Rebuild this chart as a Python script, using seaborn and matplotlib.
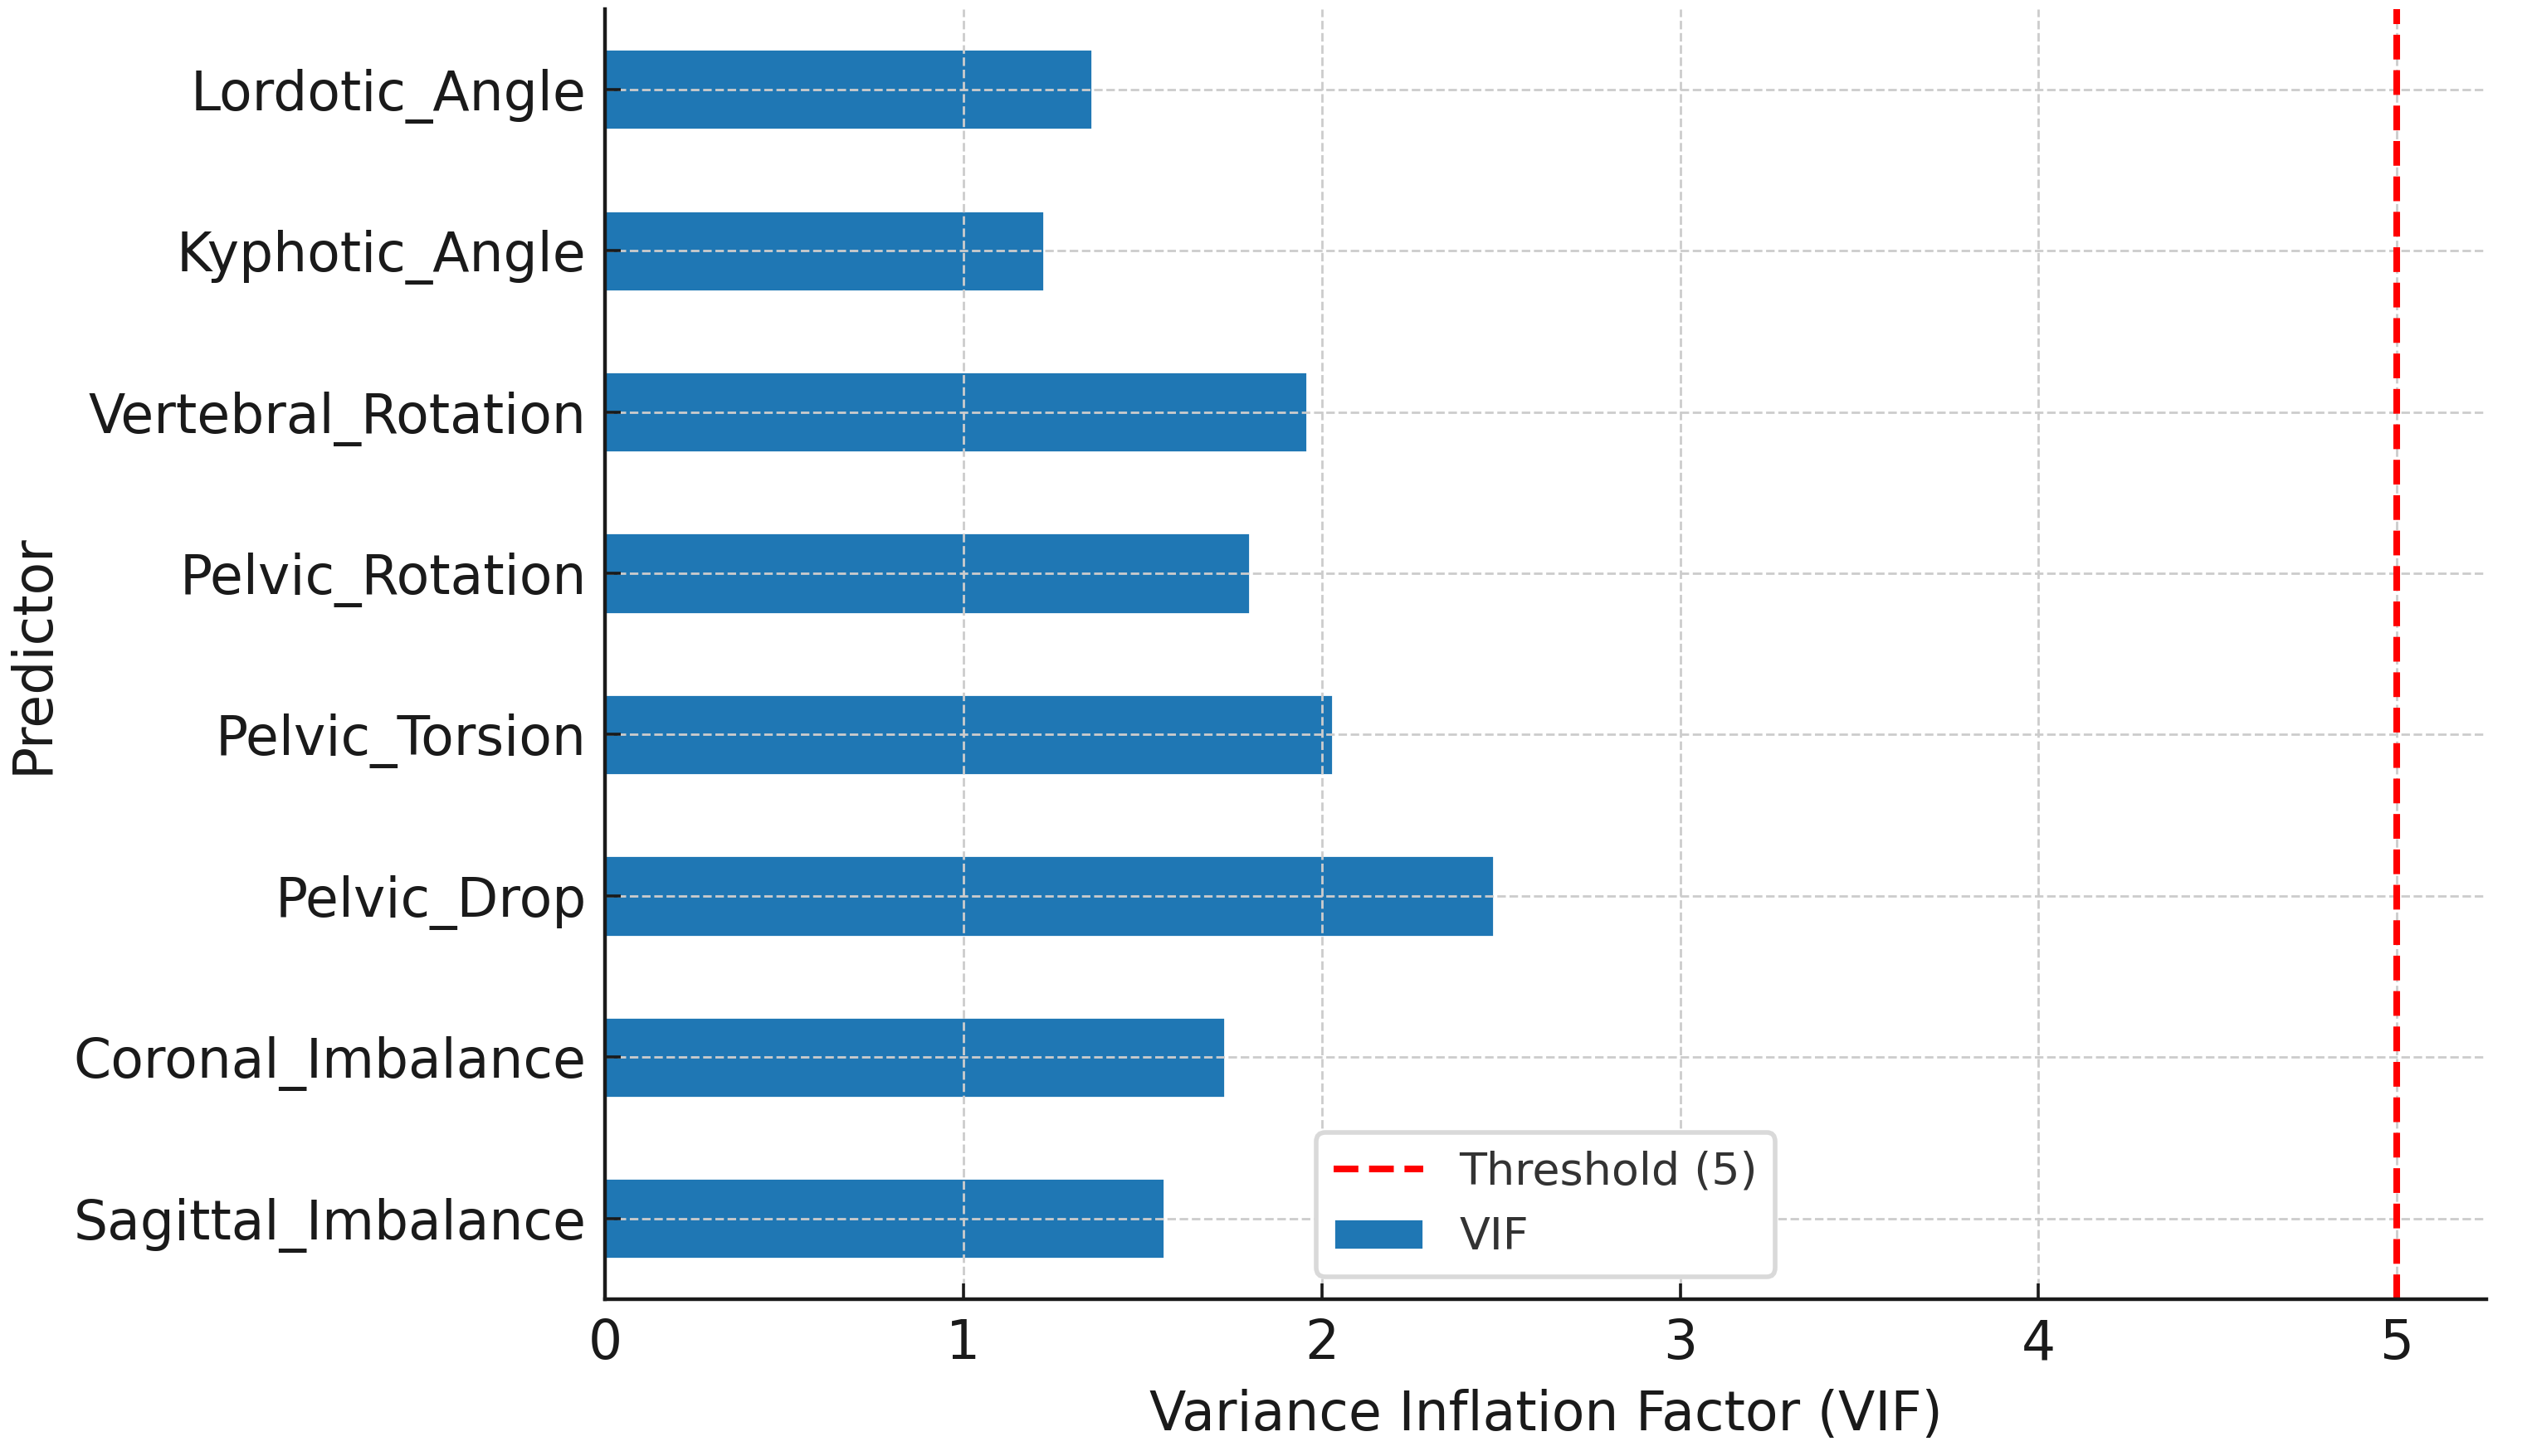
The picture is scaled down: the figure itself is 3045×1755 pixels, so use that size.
import matplotlib
matplotlib.use("Agg")
import pandas as pd
import matplotlib.pyplot as plt
import seaborn as sns

# valores (de arriba hacia abajo)
predictores = ["Lordotic_Angle", "Kyphotic_Angle", "Vertebral_Rotation", "Pelvic_Rotation",
               "Pelvic_Torsion", "Pelvic_Drop", "Coronal_Imbalance", "Sagittal_Imbalance"]
vif = [1.36, 1.225, 1.96, 1.80, 2.03, 2.48, 1.73, 1.56]
umbral = 5

sns.set_style("ticks")
plt.rcParams['font.family'] = ['DejaVu Sans']

df = pd.DataFrame({"Predictor": predictores, "VIF": vif})

fig = plt.figure(figsize=(15.225, 8.775), dpi=200)
ax = fig.add_axes([0.2394, 0.1077, 0.7446, 0.8863])

sns.barplot(data=df, x="VIF", y="Predictor", order=predictores, color="#1f77b4",
            saturation=1, width=0.5, orient="h", label="VIF", ax=ax)
ax.axvline(umbral, color="red", linestyle="--", linewidth=2.9, zorder=4,
           label=f"Threshold ({umbral})")

ax.set_xlim(0, 5.25)
ax.set_ylim(len(predictores) - 0.5, -0.5)
ax.grid(True, linestyle="--", color="#cccccc", linewidth=1.0)
ax.set_axisbelow(False)

for s in ["top", "right"]:
    ax.spines[s].set_visible(False)
for s in ["left", "bottom"]:
    ax.spines[s].set_linewidth(1.6)
    ax.spines[s].set_color("#1a1a1a")
    ax.spines[s].set_zorder(5)

ax.tick_params(direction="in", length=7, width=1.3, labelsize=23.3, colors="#1a1a1a", pad=8)
ax.set_xlabel("Variance Inflation Factor (VIF)", fontsize=23.3, color="#1a1a1a", labelpad=8)
ax.set_ylabel("Predictor", fontsize=23.3, color="#1a1a1a", labelpad=6)

leg = ax.legend(loc="lower center", fontsize=19.4, frameon=True, fancybox=True, framealpha=1)
leg.get_frame().set_edgecolor("#d9d9d9")
leg.get_frame().set_linewidth(2)
for t in leg.get_texts():
    t.set_color("#333333")

fig.savefig("out.png", dpi=200)
